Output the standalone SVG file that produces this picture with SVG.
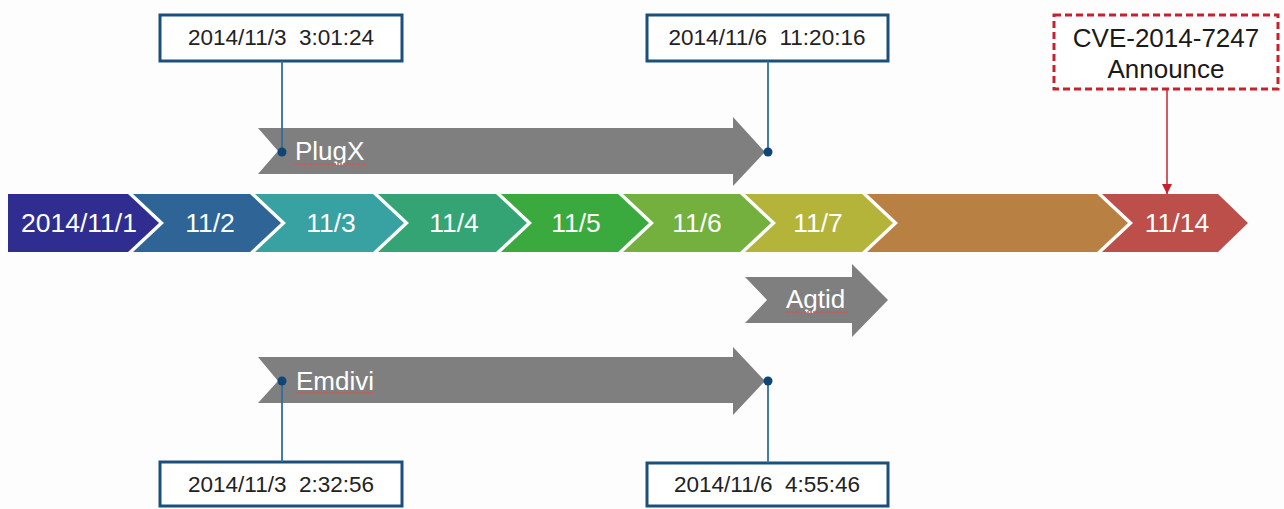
<svg xmlns="http://www.w3.org/2000/svg" width="1284" height="509" viewBox="0 0 1284 509">
<style>
.chev text{font-family:"Liberation Sans",Arial,sans-serif;font-size:26.5px;fill:#ffffff;text-anchor:middle}
.gray{fill:#7f7f7f}
.glabel{font-family:"Liberation Sans",Arial,sans-serif;font-size:26px;fill:#ffffff}
.squig{stroke:#d9534f;stroke-width:1.5;stroke-dasharray:2 1;fill:none}
.datebox{fill:#ffffff;stroke:#1b4f7c;stroke-width:3}
.datetext{font-family:"Liberation Sans",Arial,sans-serif;font-size:22.5px;fill:#222222;text-anchor:middle}
.lead{stroke:#2f6e9e;stroke-width:1.8;fill:none}
.dot{fill:#0e4677}
.cvebox{fill:#ffffff;stroke:#c8202e;stroke-width:3;stroke-dasharray:7 4}
.cvetext{font-family:"Liberation Sans",Arial,sans-serif;font-size:26px;fill:#1a1a1a;text-anchor:middle}
</style>
<defs>
<marker id="redhead" viewBox="0 0 10 10" refX="10" refY="5" markerWidth="10" markerHeight="10" markerUnits="userSpaceOnUse" orient="auto">
<path d="M0,0 L10,5 L0,10 Z" fill="#c8202e"/>
</marker>
</defs>
<rect width="1284" height="509" fill="#fdfdfd"/>

<g id="timeline" class="chev">
<g id="d1"><polygon points="8,194 128,194 159,223 128,252 8,252" fill="#2f2e90"/><text x="79" y="232">2014/11/1</text></g>
<g id="d2"><polygon points="133,194 250,194 281,223 250,252 133,252 164,223" fill="#2e6596"/><text x="210" y="232">11/2</text></g>
<g id="d3"><polygon points="255,194 373,194 404,223 373,252 255,252 286,223" fill="#38a1a1"/><text x="331" y="232">11/3</text></g>
<g id="d4"><polygon points="378,194 496,194 527,223 496,252 378,252 409,223" fill="#34a474"/><text x="454" y="232">11/4</text></g>
<g id="d5"><polygon points="501,194 618,194 649,223 618,252 501,252 532,223" fill="#3aaa3f"/><text x="576" y="232">11/5</text></g>
<g id="d6"><polygon points="623,194 740,194 771,223 740,252 623,252 654,223" fill="#74b03d"/><text x="697" y="232">11/6</text></g>
<g id="d7"><polygon points="745,194 862,194 893,223 862,252 745,252 776,223" fill="#b4b43b"/><text x="818" y="232">11/7</text></g>
<g id="d8"><polygon points="867,194 1097,194 1128,223 1097,252 867,252 898,223" fill="#b98044"/></g>
<g id="d14"><polygon points="1102,194 1218,194 1248,223 1218,252 1102,252 1133,223" fill="#bd4f4b"/><text x="1177" y="232">11/14</text></g>
</g>

<g id="plugx">
<polygon class="gray" points="258,128 733,128 733,117 765,152 733,186 733,174 258,174 278,151"/>
<text class="glabel" x="295" y="160">PlugX</text>
<line class="squig" x1="295" y1="164" x2="366" y2="164"/>
</g>

<g id="emdivi">
<polygon class="gray" points="258,357 733,357 733,347 765,381 733,415 733,403 258,403 278,381"/>
<text class="glabel" x="296" y="390">Emdivi</text>
<line class="squig" x1="296" y1="393" x2="374" y2="393"/>
</g>

<g id="agtid">
<polygon class="gray" points="745,277 852,277 852,264 888,300 852,337 852,323 745,323 767,300"/>
<text class="glabel" x="786" y="308">Agtid</text>
<line class="squig" x1="786" y1="312" x2="849" y2="312"/>
</g>

<g id="box-plugx-start"><rect class="datebox" x="160" y="15" width="242" height="46"/><text class="datetext" x="281" y="45" xml:space="preserve">2014/11/3  3:01:24</text></g>
<g id="box-plugx-end"><rect class="datebox" x="647" y="15" width="241" height="46"/><text class="datetext" x="767" y="45" xml:space="preserve">2014/11/6  11:20:16</text></g>
<g id="box-emdivi-start"><rect class="datebox" x="160" y="462" width="242" height="44"/><text class="datetext" x="281" y="492" xml:space="preserve">2014/11/3  2:32:56</text></g>
<g id="box-emdivi-end"><rect class="datebox" x="647" y="463" width="241" height="43"/><text class="datetext" x="767" y="492" xml:space="preserve">2014/11/6  4:55:46</text></g>
<g id="cve"><rect class="cvebox" x="1054" y="15" width="224" height="74"/><text class="cvetext" x="1166" y="47">CVE-2014-7247</text><text class="cvetext" x="1166" y="78">Announce</text></g>

<g id="connectors">
<line class="lead" x1="282" y1="61" x2="282" y2="152"/>
<circle class="dot" cx="282" cy="152" r="4.5"/>
<line class="lead" x1="768" y1="61" x2="768" y2="152"/>
<circle class="dot" cx="768" cy="152" r="4.5"/>
<line class="lead" x1="282" y1="381" x2="282" y2="462"/>
<circle class="dot" cx="282" cy="381" r="4.5"/>
<line class="lead" x1="768" y1="381" x2="768" y2="463"/>
<circle class="dot" cx="768" cy="381" r="4.5"/>
<line x1="1167" y1="89" x2="1167" y2="194" stroke="#c8202e" stroke-width="1.5" marker-end="url(#redhead)"/>
</g>
</svg>
